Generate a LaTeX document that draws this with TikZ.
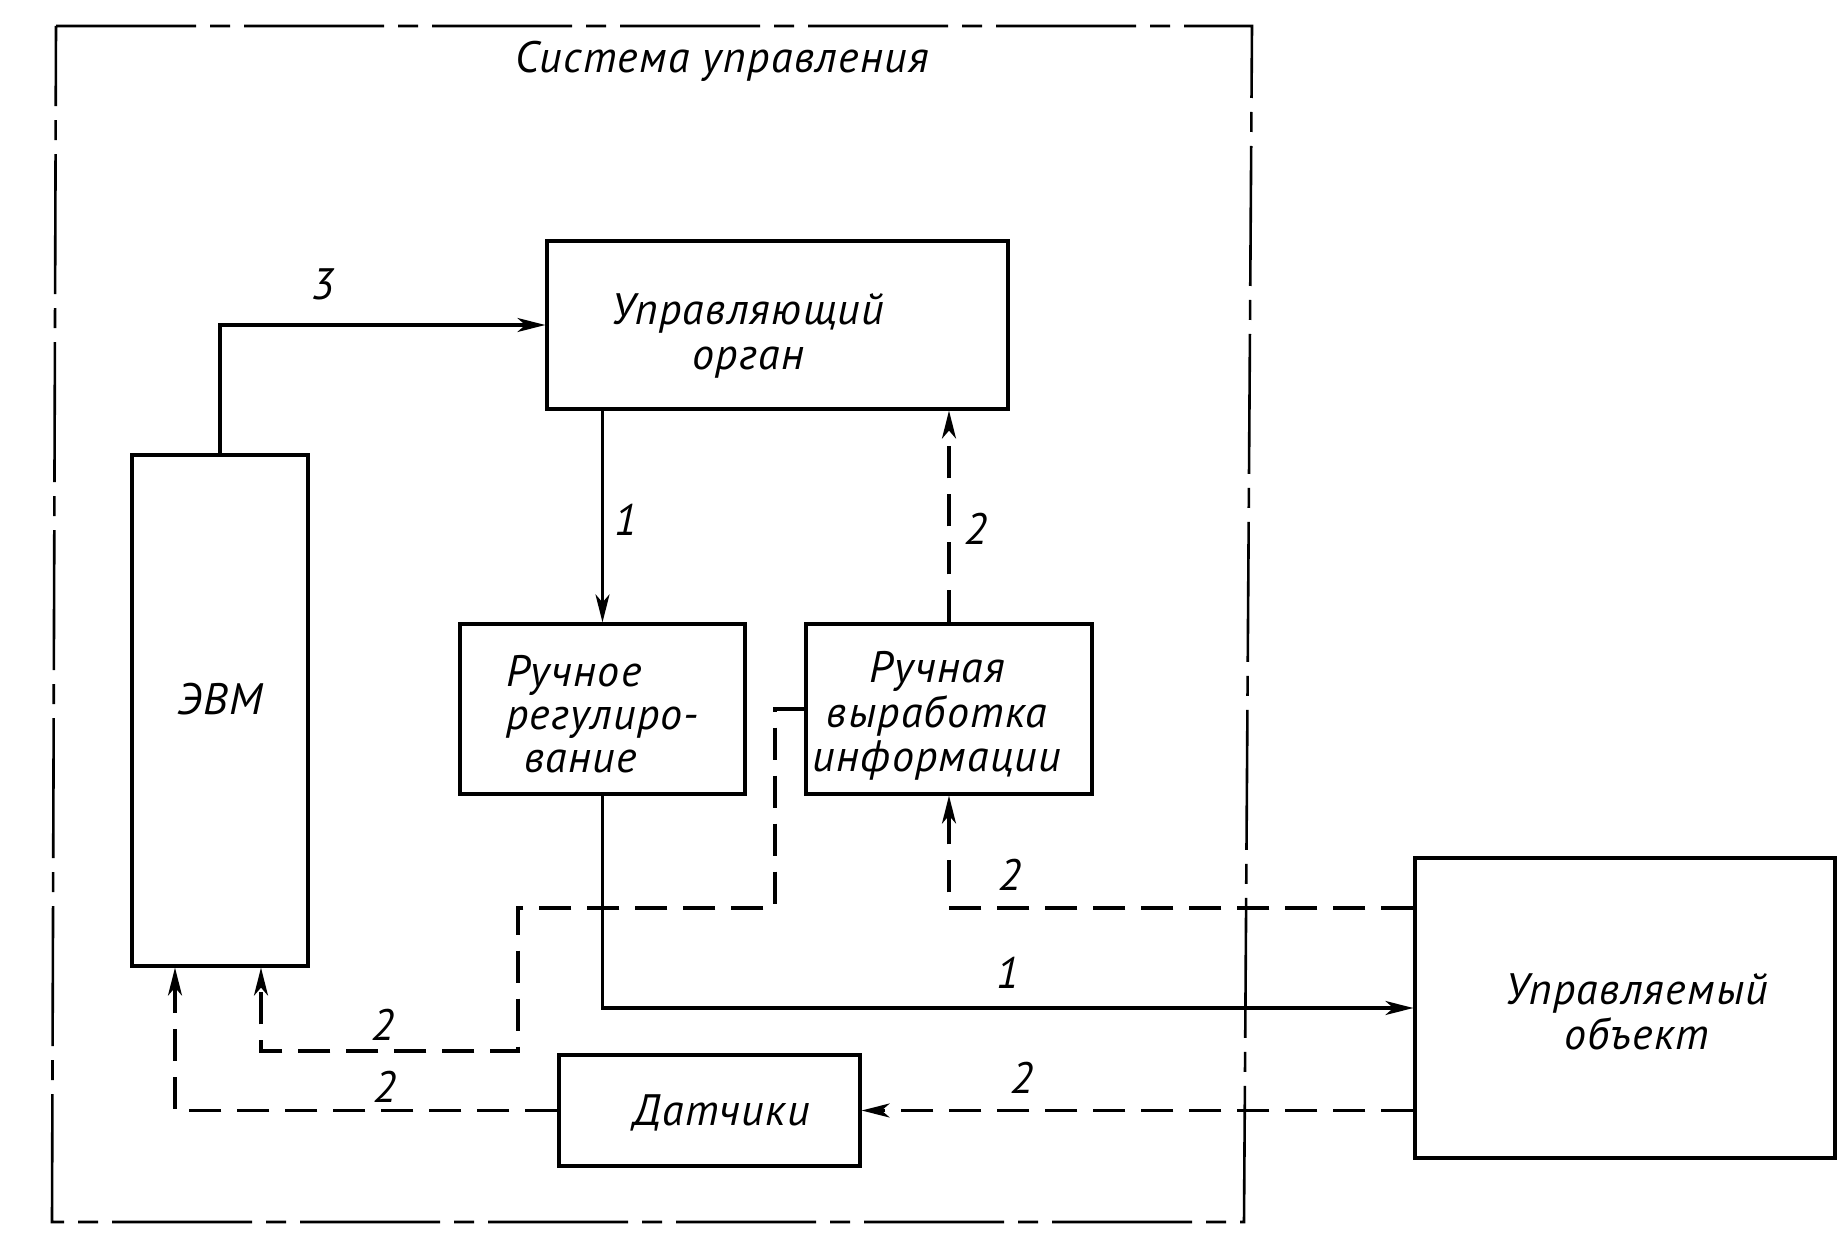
\documentclass[tikz,border=0pt]{standalone}
\usepackage{fontspec}
\newfontfamily\gost{PT Sans}[LetterSpace=3]
\usetikzlibrary{arrows.meta}
\newcommand\lblfont{\fontsize{22}{21.5}\selectfont\gost\itshape}
% shifted multi-line text block: #1 = x shift, #2 = y shift, #3 = column type, #4 = lines
\newcommand\tbk[4]{\raisebox{#2}[\height][\depth]{\hspace*{#1}\begin{tabular}{@{}#3@{}}#4\end{tabular}\hspace*{-#1}}}
\begin{document}
\begin{tikzpicture}[x=0.5pt,y=-0.5pt,
  box/.style={draw, line width=1.6pt, inner sep=0pt, font=\lblfont},
  sarr/.style={line width=1.6pt, -{Stealth[length=14pt,width=7pt,inset=4pt]}},
  darr/.style={line width=1.6pt, dash pattern=on 16pt off 8pt, -{Stealth[length=14pt,width=7pt,inset=4pt]}},
  border/.style={line width=1.3pt, dash pattern=on 70pt off 7pt on 10pt off 7pt},
  num/.style={font=\lblfont, inner sep=1pt}]
\useasboundingbox (0,0) rectangle (1842,1241);
\fill[white] (0,0) rectangle (1842,1241);

% outer frame
\draw[border] (56,26) -- (1252,26) -- (1244,1222) -- (52,1222) -- cycle;
\node[font=\lblfont] (title) at (722,61) {Система управления};

% boxes
\node[box, minimum width=230.5pt, minimum height=84pt] (uo) at (777.5,325)
  {\tbk{-14.7pt}{-6.5pt}{c}{Управляющий\\[1pt]орган}};
\node[box, minimum width=88pt, minimum height=255.5pt] (evm) at (220,710.5)
  {\tbk{0pt}{2.5pt}{c}{ЭВМ}};
\node[box, minimum width=142.5pt, minimum height=85pt] (rr) at (602.5,709)
  {\tbk{0pt}{-5.5pt}{l}{Ручное\\регулиро-\\\hspace*{9pt}вание}};
\node[box, minimum width=143pt, minimum height=85pt] (rv) at (949,709)
  {\tbk{-6pt}{-4.5pt}{c}{Ручная\\выработка\\информации}};
\node[box, minimum width=150.5pt, minimum height=55.5pt] (dat) at (709.5,1110.5)
  {\tbk{6pt}{-3pt}{c}{Датчики}};
\node[box, minimum width=210pt, minimum height=150pt] (obj) at (1625,1008)
  {\tbk{6pt}{-5pt}{c}{Управляемый\\объект}};

% bend points
\coordinate (p1) at (947,908);
\coordinate (k1) at (775,908);
\coordinate (k2) at (518,1051);
\coordinate (k3) at (261,1051);
\coordinate (k4) at (175,1110);

% connectors
\draw[sarr] (evm.north) |- (uo.west);
\draw[sarr] (uo.south -| rr.north) -- (rr.north);
\draw[darr] (rv.north) -- (rv.north |- uo.south);
\draw[sarr] (rr.south) |- (obj.west);
\draw[darr] (obj.west |- p1) -| (rv.south);
\draw[darr] (rv.west) -| (k1) -| (k2) -- (k3) -- (k3 |- evm.south);
\draw[darr] (obj.west |- dat.east) -- (dat.east);
\draw[darr] (dat.west) -- (dat.west -| k4) -- (k4 |- evm.south);

% labels
\node[num] (l3) at (323,284) {3};
\node[num] (l1a) at (626,520) {1};
\node[num] (l2a) at (976,529) {2};
\node[num] (l2b) at (1010,875) {2};
\node[num] (l1b) at (1008,973) {1};
\node[num] (l2c) at (383,1025) {2};
\node[num] (l2d) at (385,1087) {2};
\node[num] (l2e) at (1022,1078) {2};
\end{tikzpicture}
\end{document}
